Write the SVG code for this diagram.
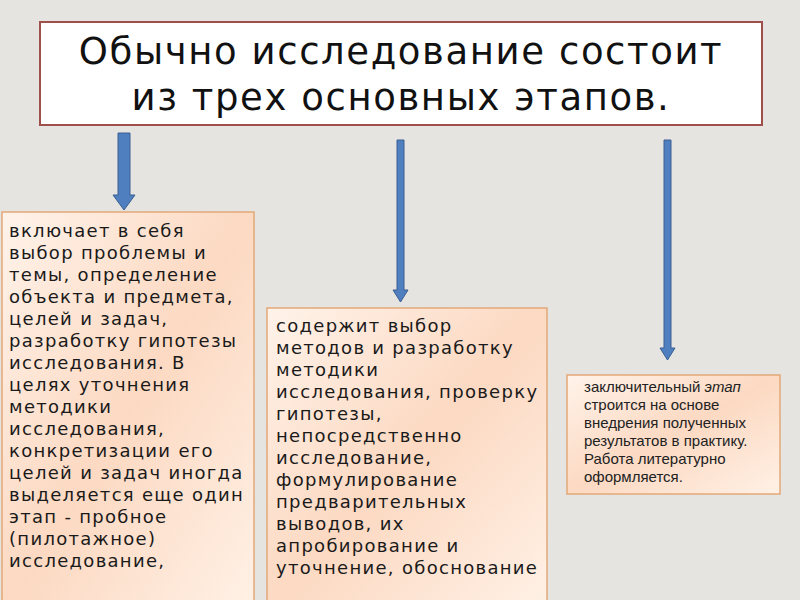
<svg xmlns="http://www.w3.org/2000/svg" width="800" height="600" viewBox="0 0 800 600">
<defs>
<linearGradient id="g" x1="0" y1="0" x2="1" y2="1">
<stop offset="0" stop-color="#fff3ea"/><stop offset="0.5" stop-color="#fcd9c2"/><stop offset="1" stop-color="#fff1e6"/>
</linearGradient>
<style>
.box{fill:url(#g);stroke:#e2a878;stroke-width:1.5}
.t{font-family:"DejaVu Sans",sans-serif;font-size:18px;letter-spacing:1.3px;fill:#1a1a1a}
.s{font-family:"Liberation Sans",sans-serif;font-size:15px;fill:#222}
.arr{fill:#4f7fbf;stroke:#3a5f92;stroke-width:1}
.h{font-family:"DejaVu Sans",sans-serif;font-size:37px;letter-spacing:1.6px;fill:#111}
</style>
</defs>
<rect width="800" height="600" fill="#e6e4e0"/>
<g id="title">
<rect x="40" y="22" width="722" height="103" fill="#fff" stroke="#a0504a" stroke-width="2"/>
<text class="h" x="401" y="64" text-anchor="middle">Обычно исследование состоит</text>
<text class="h" x="401" y="110" text-anchor="middle">из трех основных этапов.</text>
</g>
<g id="connectors">
<path class="arr" d="M118,133 H130 V195 H135 L124,210 L113,195 H118 Z"/>
<path class="arr" d="M397,140 H404 V290 H408 L400.5,302 L393,290 H397 Z"/>
<path class="arr" d="M664,140 H671 V348 H675 L667.5,360 L660,348 H664 Z"/>
</g>
<g id="box1">
<rect class="box" x="2" y="212" width="252" height="400"/>
<text class="t" x="9" y="237">включает в себя</text>
<text class="t" x="9" y="259">выбор проблемы и</text>
<text class="t" x="9" y="281">темы, определение</text>
<text class="t" x="9" y="303">объекта и предмета,</text>
<text class="t" x="9" y="325">целей и задач,</text>
<text class="t" x="9" y="347">разработку гипотезы</text>
<text class="t" x="9" y="369">исследования. В</text>
<text class="t" x="9" y="391">целях уточнения</text>
<text class="t" x="9" y="413">методики</text>
<text class="t" x="9" y="435">исследования,</text>
<text class="t" x="9" y="457">конкретизации его</text>
<text class="t" x="9" y="479">целей и задач иногда</text>
<text class="t" x="9" y="501">выделяется еще один</text>
<text class="t" x="9" y="523">этап - пробное</text>
<text class="t" x="9" y="545">(пилотажное)</text>
<text class="t" x="9" y="567">исследование,</text>
</g>
<g id="box2">
<rect class="box" x="267" y="308" width="280" height="300"/>
<text class="t" x="276" y="332">содержит выбор</text>
<text class="t" x="276" y="354">методов и разработку</text>
<text class="t" x="276" y="376">методики</text>
<text class="t" x="276" y="398">исследования, проверку</text>
<text class="t" x="276" y="420">гипотезы,</text>
<text class="t" x="276" y="442">непосредственно</text>
<text class="t" x="276" y="464">исследование,</text>
<text class="t" x="276" y="486">формулирование</text>
<text class="t" x="276" y="508">предварительных</text>
<text class="t" x="276" y="530">выводов, их</text>
<text class="t" x="276" y="552">апробирование и</text>
<text class="t" x="276" y="574">уточнение, обоснование</text>
</g>
<g id="box3">
<rect class="box" x="567" y="375" width="213" height="119"/>
<text class="s" x="584" y="392">заключительный <tspan font-style="italic">этап</tspan></text>
<text class="s" x="584" y="410">строится на основе</text>
<text class="s" x="584" y="428">внедрения полученных</text>
<text class="s" x="584" y="446">результатов в практику.</text>
<text class="s" x="584" y="464">Работа литературно</text>
<text class="s" x="584" y="482">оформляется.</text>
</g>
</svg>
